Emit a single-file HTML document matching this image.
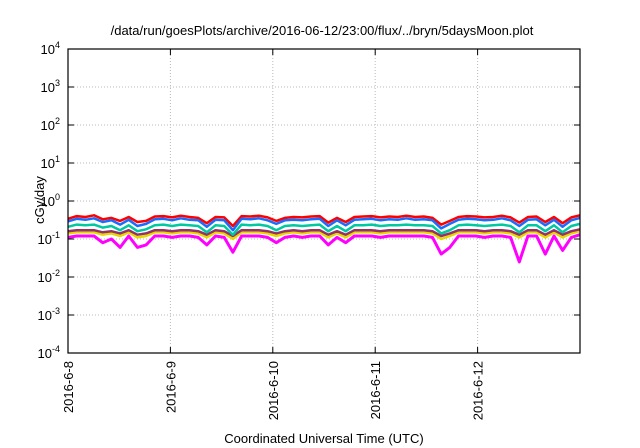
<!DOCTYPE html>
<html><head><meta charset="utf-8"><style>
html,body{margin:0;padding:0;background:#fff;}
svg{display:block;font-family:"Liberation Sans",sans-serif;}
</style></head><body>
<svg id="c" width="640" height="448" viewBox="0 0 640 448">
<text x="322" y="35" font-size="13" text-anchor="middle">/data/run/goesPlots/archive/2016-06-12/23:00/flux/../bryn/5daysMoon.plot</text>
<text transform="translate(44,200) rotate(-90)" font-size="13" text-anchor="middle">cGy/day</text>
<text x="324" y="443" font-size="13" text-anchor="middle">Coordinated Universal Time (UTC)</text>
<g id="grid"></g><g id="series"></g><g id="axes"></g>
</svg>
<script>
const xTickLabels=["2016-6-8","2016-6-9","2016-6-10","2016-6-11","2016-6-12"];
const yExps=[-4,-3,-2,-1,0,1,2,3,4];
const red=[0.34,0.40,0.38,0.42,0.33,0.36,0.30,0.38,0.28,0.30,0.39,0.40,0.37,0.41,0.38,0.36,0.26,0.38,0.37,0.22,0.40,0.39,0.41,0.37,0.30,0.36,0.38,0.37,0.39,0.40,0.27,0.36,0.28,0.38,0.39,0.40,0.37,0.39,0.38,0.41,0.38,0.39,0.36,0.24,0.30,0.38,0.40,0.39,0.37,0.38,0.41,0.37,0.27,0.38,0.39,0.28,0.38,0.26,0.37,0.42];
const blue=[0.29,0.34,0.32,0.35,0.28,0.31,0.24,0.32,0.22,0.25,0.33,0.34,0.31,0.35,0.32,0.31,0.21,0.32,0.31,0.17,0.34,0.33,0.35,0.31,0.25,0.31,0.32,0.31,0.33,0.34,0.22,0.31,0.23,0.32,0.33,0.34,0.31,0.33,0.32,0.35,0.32,0.33,0.31,0.19,0.25,0.32,0.34,0.33,0.31,0.32,0.35,0.31,0.22,0.32,0.33,0.23,0.32,0.21,0.31,0.36];
const teal=[0.21,0.24,0.23,0.24,0.20,0.22,0.17,0.23,0.16,0.18,0.23,0.24,0.22,0.24,0.23,0.22,0.15,0.23,0.22,0.13,0.24,0.23,0.24,0.22,0.17,0.22,0.23,0.22,0.23,0.24,0.16,0.22,0.16,0.23,0.23,0.24,0.22,0.23,0.23,0.24,0.23,0.23,0.22,0.14,0.17,0.23,0.24,0.23,0.22,0.23,0.24,0.22,0.15,0.23,0.23,0.16,0.23,0.15,0.22,0.25];
const purple=[0.16,0.17,0.17,0.17,0.15,0.16,0.14,0.17,0.13,0.14,0.17,0.17,0.16,0.17,0.17,0.16,0.13,0.17,0.16,0.12,0.17,0.17,0.17,0.16,0.14,0.16,0.17,0.16,0.17,0.17,0.13,0.16,0.13,0.17,0.17,0.17,0.16,0.17,0.17,0.17,0.17,0.17,0.16,0.12,0.14,0.17,0.17,0.17,0.16,0.17,0.17,0.16,0.13,0.17,0.17,0.13,0.17,0.13,0.16,0.18];
const yellow=[0.14,0.15,0.15,0.15,0.13,0.14,0.12,0.15,0.11,0.12,0.15,0.15,0.14,0.15,0.15,0.14,0.11,0.15,0.14,0.10,0.15,0.15,0.15,0.14,0.12,0.14,0.15,0.14,0.15,0.15,0.11,0.14,0.11,0.15,0.15,0.15,0.14,0.15,0.15,0.15,0.15,0.15,0.14,0.10,0.12,0.15,0.15,0.15,0.14,0.15,0.15,0.14,0.11,0.15,0.15,0.11,0.15,0.11,0.14,0.16];
const magenta=[0.11,0.12,0.12,0.12,0.08,0.10,0.06,0.12,0.06,0.07,0.12,0.12,0.11,0.12,0.12,0.11,0.07,0.12,0.11,0.045,0.12,0.12,0.12,0.11,0.08,0.11,0.12,0.11,0.12,0.12,0.07,0.11,0.08,0.12,0.12,0.12,0.11,0.12,0.12,0.12,0.12,0.12,0.11,0.04,0.06,0.12,0.12,0.12,0.11,0.12,0.12,0.11,0.025,0.12,0.12,0.04,0.12,0.05,0.11,0.13];
const L=68,R=580,T=49,B=353,NS="http://www.w3.org/2000/svg";
const xs=i=>L+(R-L)*i/(red.length-1);
const xd=d=>L+(R-L)*d/5;
const ys=v=>B-(Math.log10(v)+4)*(B-T)/8;
function mk(tag,attrs,parent){const e=document.createElementNS(NS,tag);for(const k in attrs)e.setAttribute(k,attrs[k]);parent.appendChild(e);return e;}
const grid=document.getElementById('grid'),axes=document.getElementById('axes'),ser=document.getElementById('series');
yExps.forEach(p=>{const y=ys(Math.pow(10,p));
 if(p>-4&&p<4){const g=mk('line',{x1:L,x2:R,y1:y,y2:y,stroke:'#bbb','stroke-dasharray':'1,2'},grid);
 
 }
 mk('line',{x1:L,x2:L+6,y1:y,y2:y,stroke:'#000'},axes);
 mk('line',{x1:R,x2:R-6,y1:y,y2:y,stroke:'#000'},axes);
 const t=mk('text',{x:L-8,y:y+5,'font-size':13,'text-anchor':'end'},axes);
 
 
 t.innerHTML='10<tspan dy="-6" font-size="9">'+p+'</tspan>';});
xTickLabels.forEach((lab,i)=>{const x=xd(i);
 if(i>0){const g=mk('line',{x1:x,x2:x,y1:T,y2:B,stroke:'#bbb','stroke-dasharray':'1,2'},grid);
 
 }
 mk('line',{x1:x,x2:x,y1:B,y2:B-6,stroke:'#000'},axes);
 mk('line',{x1:x,x2:x,y1:T,y2:T+6,stroke:'#000'},axes);
 const t=mk('text',{transform:`translate(${x+5},${B+8}) rotate(-90)`,'font-size':13,'text-anchor':'end'},axes);
 
 
 t.textContent=lab;});
const fr=mk('rect',{x:L,y:T,width:R-L,height:B-T,fill:'none',stroke:'#000','stroke-width':1.2},axes);


[[magenta,'#f0f','magenta'],[yellow,'#e8d800','yellow'],[purple,'#94306a','purple'],[teal,'#00c8a0','teal'],[red,'#f00','red'],[blue,'#1a6cff','blue']].forEach(([arr,col,nm])=>{
 const d=arr.map((v,i)=>(i?'L':'M')+xs(i).toFixed(1)+','+ys(v).toFixed(1)).join('');
 const p=mk('path',{d:d,fill:'none',stroke:col,'stroke-width':nm==='magenta'?3:2.5,'stroke-linejoin':'round'},ser);
 
 });
</script>
</body></html>
